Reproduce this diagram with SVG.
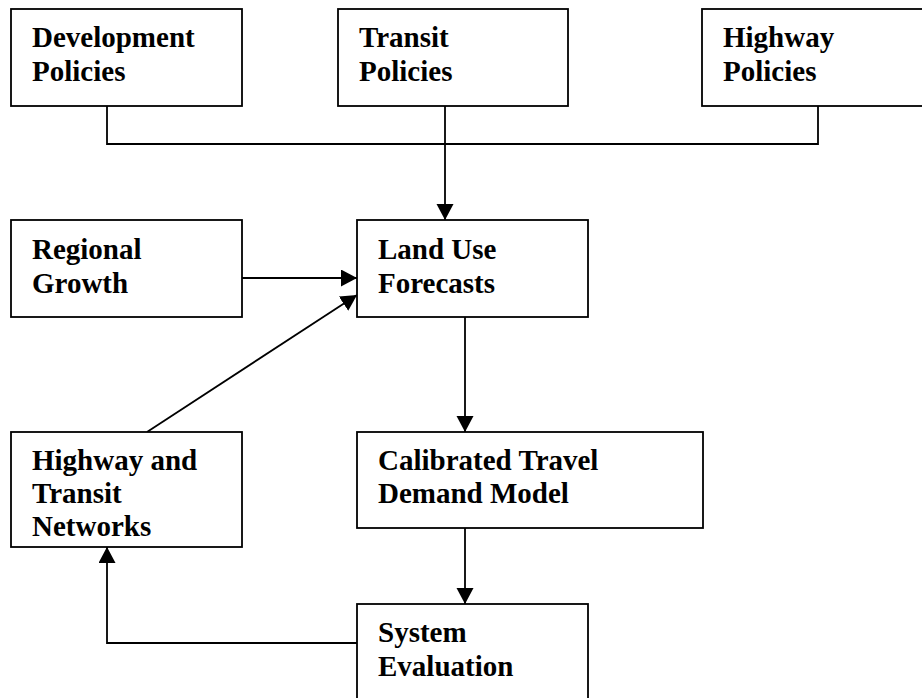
<svg xmlns="http://www.w3.org/2000/svg" width="922" height="698" viewBox="0 0 922 698">
<style>
.box{fill:#fff;stroke:#000;stroke-width:1.8}
.t{font-family:"Liberation Serif","Times New Roman",serif;font-weight:bold;font-size:29px;fill:#000}
.c{fill:none;stroke:#000;stroke-width:1.8}
</style>
<defs>
<marker id="ah" markerUnits="userSpaceOnUse" markerWidth="17" markerHeight="18" refX="16" refY="8.5" orient="auto" viewBox="0 0 17 18">
<path d="M0,0 L16,8.5 L0,17 Z" fill="#000"/>
</marker>
</defs>
<rect width="922" height="698" fill="#fff"/>
<g id="connectors">
<polyline class="c" points="107,106 107,144 818,144 818,106"/>
<line class="c" x1="445" y1="106" x2="445" y2="220" marker-end="url(#ah)"/>
<line class="c" x1="242" y1="278" x2="357" y2="278" marker-end="url(#ah)"/>
<line class="c" x1="147" y1="432" x2="357" y2="295" marker-end="url(#ah)"/>
<line class="c" x1="465" y1="317" x2="465" y2="432" marker-end="url(#ah)"/>
<line class="c" x1="465" y1="528" x2="465" y2="604" marker-end="url(#ah)"/>
<polyline class="c" points="357,643 107,643 107,547" marker-end="url(#ah)"/>
</g>
<g id="development">
<rect class="box" x="11" y="9" width="231" height="97"/>
<text class="t" x="32" y="47">Development</text>
<text class="t" x="32" y="81">Policies</text>
</g>
<g id="transit">
<rect class="box" x="338" y="9" width="230" height="97"/>
<text class="t" x="359" y="47">Transit</text>
<text class="t" x="359" y="81">Policies</text>
</g>
<g id="highway">
<rect class="box" x="702" y="9" width="224" height="97"/>
<text class="t" x="723" y="47">Highway</text>
<text class="t" x="723" y="81">Policies</text>
</g>
<g id="regional">
<rect class="box" x="11" y="220" width="231" height="97"/>
<text class="t" x="32" y="259">Regional</text>
<text class="t" x="32" y="292.5">Growth</text>
</g>
<g id="landuse">
<rect class="box" x="357" y="220" width="231" height="97"/>
<text class="t" x="378" y="259">Land Use</text>
<text class="t" x="378" y="292.5">Forecasts</text>
</g>
<g id="networks">
<rect class="box" x="11" y="432" width="231" height="115"/>
<text class="t" x="32" y="470">Highway and</text>
<text class="t" x="32" y="503">Transit</text>
<text class="t" x="32" y="536">Networks</text>
</g>
<g id="calibrated">
<rect class="box" x="357" y="432" width="346" height="96"/>
<text class="t" x="378" y="470">Calibrated Travel</text>
<text class="t" x="378" y="503">Demand Model</text>
</g>
<g id="evaluation">
<rect class="box" x="357" y="604" width="231" height="100"/>
<text class="t" x="378" y="642">System</text>
<text class="t" x="378" y="676">Evaluation</text>
</g>
</svg>
